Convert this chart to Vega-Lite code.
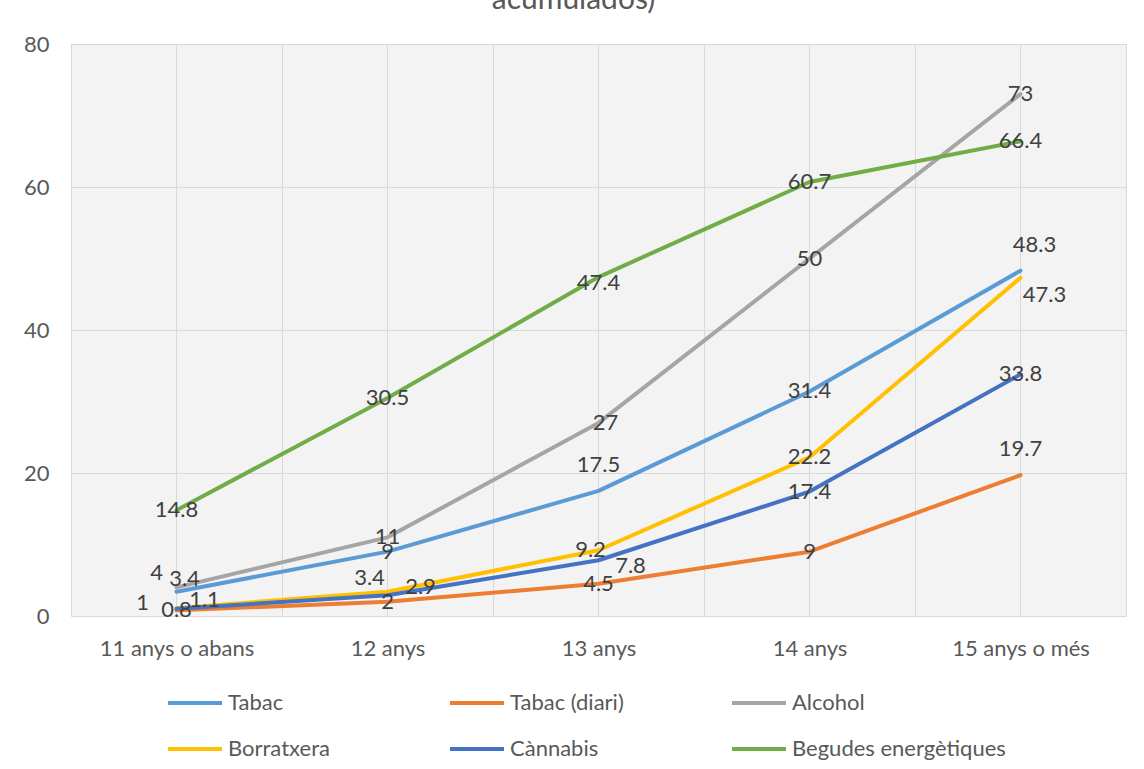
{
  "$schema": "https://vega.github.io/schema/vega-lite/v6.json",
  "width": 1055,
  "height": 572,
  "autosize": {"type": "none"},
  "padding": {"left": 71, "top": 44, "right": 18, "bottom": 153},
  "background": "#ffffff",
  "title": {
    "text": "acumulados)",
    "font": "Lato",
    "fontSize": 30,
    "fontWeight": "normal",
    "color": "#595959",
    "anchor": "middle",
    "dx": -25,
    "offset": 18
  },
  "config": {
    "font": "Lato",
    "view": {"fill": "#f3f3f3", "stroke": null},
    "axis": {
      "gridColor": "#d9d9d9",
      "gridWidth": 1,
      "domain": false,
      "ticks": false,
      "labelFont": "Lato",
      "labelFontSize": 22,
      "labelColor": "#595959",
      "title": null
    },
    "text": {"font": "Lato", "fontSize": 22, "color": "#404040", "baseline": "middle", "align": "center"}
  },
  "data": {
    "values": [
      {"serie": "Tabac", "edat": "11 anys o abans", "valor": 3.4},
      {"serie": "Tabac", "edat": "12 anys", "valor": 9},
      {"serie": "Tabac", "edat": "13 anys", "valor": 17.5},
      {"serie": "Tabac", "edat": "14 anys", "valor": 31.4},
      {"serie": "Tabac", "edat": "15 anys o més", "valor": 48.3},
      {"serie": "Tabac (diari)", "edat": "11 anys o abans", "valor": 0.8},
      {"serie": "Tabac (diari)", "edat": "12 anys", "valor": 2},
      {"serie": "Tabac (diari)", "edat": "13 anys", "valor": 4.5},
      {"serie": "Tabac (diari)", "edat": "14 anys", "valor": 9},
      {"serie": "Tabac (diari)", "edat": "15 anys o més", "valor": 19.7},
      {"serie": "Alcohol", "edat": "11 anys o abans", "valor": 4},
      {"serie": "Alcohol", "edat": "12 anys", "valor": 11},
      {"serie": "Alcohol", "edat": "13 anys", "valor": 27},
      {"serie": "Alcohol", "edat": "14 anys", "valor": 50},
      {"serie": "Alcohol", "edat": "15 anys o més", "valor": 73},
      {"serie": "Borratxera", "edat": "11 anys o abans", "valor": 1.1},
      {"serie": "Borratxera", "edat": "12 anys", "valor": 3.4},
      {"serie": "Borratxera", "edat": "13 anys", "valor": 9.2},
      {"serie": "Borratxera", "edat": "14 anys", "valor": 22.2},
      {"serie": "Borratxera", "edat": "15 anys o més", "valor": 47.3},
      {"serie": "Cànnabis", "edat": "11 anys o abans", "valor": 1},
      {"serie": "Cànnabis", "edat": "12 anys", "valor": 2.9},
      {"serie": "Cànnabis", "edat": "13 anys", "valor": 7.8},
      {"serie": "Cànnabis", "edat": "14 anys", "valor": 17.4},
      {"serie": "Cànnabis", "edat": "15 anys o més", "valor": 33.8},
      {"serie": "Begudes energètiques", "edat": "11 anys o abans", "valor": 14.8},
      {"serie": "Begudes energètiques", "edat": "12 anys", "valor": 30.5},
      {"serie": "Begudes energètiques", "edat": "13 anys", "valor": 47.4},
      {"serie": "Begudes energètiques", "edat": "14 anys", "valor": 60.7},
      {"serie": "Begudes energètiques", "edat": "15 anys o més", "valor": 66.4}
    ]
  },
  "resolve": {"axis": {"x": "independent"}},
  "layer": [
    {
      "mark": {"type": "line", "strokeWidth": 4, "strokeCap": "round", "strokeJoin": "round"},
      "encoding": {
        "x": {
          "field": "edat", "type": "ordinal",
          "sort": ["11 anys o abans", "12 anys", "13 anys", "14 anys", "15 anys o més"],
          "scale": {"type": "band", "paddingInner": 0, "paddingOuter": 0},
          "axis": {"labelAngle": 0, "labelPadding": 22, "grid": true, "tickBand": "extent"}
        },
        "y": {
          "field": "valor", "type": "quantitative",
          "scale": {"domain": [0, 80], "nice": false},
          "axis": {"values": [0, 20, 40, 60, 80], "grid": true, "labelPadding": 22}
        },
        "color": {
          "field": "serie", "type": "nominal",
          "scale": {
            "domain": ["Tabac", "Tabac (diari)", "Alcohol", "Borratxera", "Cànnabis", "Begudes energètiques"],
            "range": ["#5b9bd5", "#ed7d31", "#a5a5a5", "#ffc000", "#4472c4", "#70ad47"]
          },
          "legend": {
            "orient": "none",
            "legendX": 95,
            "legendY": 630,
            "direction": "horizontal",
            "columns": 3,
            "title": null,
            "symbolType": "stroke",
            "symbolSize": 2916,
            "symbolStrokeWidth": 4,
            "labelFont": "Lato",
            "labelFontSize": 22,
            "labelColor": "#595959",
            "labelOffset": 4,
            "labelLimit": 400,
            "columnPadding": 0,
            "rowPadding": 6,
            "gridAlign": "all",
            "padding": 0
          }
        }
      }
    },
    {
      "transform": [{"filter": "indexof(['Tabac|11 anys o abans','Alcohol|11 anys o abans','Borratxera|11 anys o abans','Cànnabis|11 anys o abans','Borratxera|12 anys','Cànnabis|12 anys','Tabac|13 anys','Alcohol|13 anys','Borratxera|13 anys','Cànnabis|13 anys','Begudes energètiques|13 anys','Tabac|15 anys o més','Borratxera|15 anys o més','Tabac (diari)|15 anys o més'], datum.serie + '|' + datum.edat) < 0"}],
      "mark": {"type": "text"},
      "encoding": {
        "x": {
          "field": "edat", "type": "ordinal",
          "sort": ["11 anys o abans", "12 anys", "13 anys", "14 anys", "15 anys o més"],
          "axis": {"labels": false, "grid": true}
        },
        "y": {"field": "valor", "type": "quantitative"},
        "text": {"field": "valor", "type": "quantitative"}
      }
    },
    {
      "transform": [{"filter": "datum.serie === 'Tabac' && datum.edat === '11 anys o abans'"}],
      "mark": {"type": "text", "dx": 8, "dy": -13},
      "encoding": {
        "x": {"field": "edat", "type": "ordinal", "sort": ["11 anys o abans", "12 anys", "13 anys", "14 anys", "15 anys o més"], "axis": null},
        "y": {"field": "valor", "type": "quantitative"},
        "text": {"field": "valor", "type": "quantitative"}
      }
    },
    {
      "transform": [{"filter": "datum.serie === 'Alcohol' && datum.edat === '11 anys o abans'"}],
      "mark": {"type": "text", "dx": -20, "dy": -14},
      "encoding": {
        "x": {"field": "edat", "type": "ordinal", "sort": ["11 anys o abans", "12 anys", "13 anys", "14 anys", "15 anys o més"], "axis": null},
        "y": {"field": "valor", "type": "quantitative"},
        "text": {"field": "valor", "type": "quantitative"}
      }
    },
    {
      "transform": [{"filter": "datum.serie === 'Borratxera' && datum.edat === '11 anys o abans'"}],
      "mark": {"type": "text", "dx": 28, "dy": -8},
      "encoding": {
        "x": {"field": "edat", "type": "ordinal", "sort": ["11 anys o abans", "12 anys", "13 anys", "14 anys", "15 anys o més"], "axis": null},
        "y": {"field": "valor", "type": "quantitative"},
        "text": {"field": "valor", "type": "quantitative"}
      }
    },
    {
      "transform": [{"filter": "datum.serie === 'Cànnabis' && datum.edat === '11 anys o abans'"}],
      "mark": {"type": "text", "dx": -34, "dy": -6},
      "encoding": {
        "x": {"field": "edat", "type": "ordinal", "sort": ["11 anys o abans", "12 anys", "13 anys", "14 anys", "15 anys o més"], "axis": null},
        "y": {"field": "valor", "type": "quantitative"},
        "text": {"field": "valor", "type": "quantitative"}
      }
    },
    {
      "transform": [{"filter": "datum.serie === 'Borratxera' && datum.edat === '12 anys'"}],
      "mark": {"type": "text", "dx": -18, "dy": -14},
      "encoding": {
        "x": {"field": "edat", "type": "ordinal", "sort": ["11 anys o abans", "12 anys", "13 anys", "14 anys", "15 anys o més"], "axis": null},
        "y": {"field": "valor", "type": "quantitative"},
        "text": {"field": "valor", "type": "quantitative"}
      }
    },
    {
      "transform": [{"filter": "datum.serie === 'Cànnabis' && datum.edat === '12 anys'"}],
      "mark": {"type": "text", "dx": 33, "dy": -8},
      "encoding": {
        "x": {"field": "edat", "type": "ordinal", "sort": ["11 anys o abans", "12 anys", "13 anys", "14 anys", "15 anys o més"], "axis": null},
        "y": {"field": "valor", "type": "quantitative"},
        "text": {"field": "valor", "type": "quantitative"}
      }
    },
    {
      "transform": [{"filter": "(datum.serie === 'Tabac' && datum.edat === '13 anys') || (datum.serie === 'Tabac (diari)' && datum.edat === '15 anys o més')"}],
      "mark": {"type": "text", "dy": -26},
      "encoding": {
        "x": {"field": "edat", "type": "ordinal", "sort": ["11 anys o abans", "12 anys", "13 anys", "14 anys", "15 anys o més"], "axis": null},
        "y": {"field": "valor", "type": "quantitative"},
        "text": {"field": "valor", "type": "quantitative"}
      }
    },
    {
      "transform": [{"filter": "datum.serie === 'Alcohol' && datum.edat === '13 anys'"}],
      "mark": {"type": "text", "dx": 7},
      "encoding": {
        "x": {"field": "edat", "type": "ordinal", "sort": ["11 anys o abans", "12 anys", "13 anys", "14 anys", "15 anys o més"], "axis": null},
        "y": {"field": "valor", "type": "quantitative"},
        "text": {"field": "valor", "type": "quantitative"}
      }
    },
    {
      "transform": [{"filter": "datum.serie === 'Borratxera' && datum.edat === '13 anys'"}],
      "mark": {"type": "text", "dx": -8},
      "encoding": {
        "x": {"field": "edat", "type": "ordinal", "sort": ["11 anys o abans", "12 anys", "13 anys", "14 anys", "15 anys o més"], "axis": null},
        "y": {"field": "valor", "type": "quantitative"},
        "text": {"field": "valor", "type": "quantitative"}
      }
    },
    {
      "transform": [{"filter": "datum.serie === 'Cànnabis' && datum.edat === '13 anys'"}],
      "mark": {"type": "text", "dx": 32, "dy": 6},
      "encoding": {
        "x": {"field": "edat", "type": "ordinal", "sort": ["11 anys o abans", "12 anys", "13 anys", "14 anys", "15 anys o més"], "axis": null},
        "y": {"field": "valor", "type": "quantitative"},
        "text": {"field": "valor", "type": "quantitative"}
      }
    },
    {
      "transform": [{"filter": "datum.serie === 'Begudes energètiques' && datum.edat === '13 anys'"}],
      "mark": {"type": "text", "dy": 6},
      "encoding": {
        "x": {"field": "edat", "type": "ordinal", "sort": ["11 anys o abans", "12 anys", "13 anys", "14 anys", "15 anys o més"], "axis": null},
        "y": {"field": "valor", "type": "quantitative"},
        "text": {"field": "valor", "type": "quantitative"}
      }
    },
    {
      "transform": [{"filter": "datum.serie === 'Tabac' && datum.edat === '15 anys o més'"}],
      "mark": {"type": "text", "dx": 14, "dy": -26},
      "encoding": {
        "x": {"field": "edat", "type": "ordinal", "sort": ["11 anys o abans", "12 anys", "13 anys", "14 anys", "15 anys o més"], "axis": null},
        "y": {"field": "valor", "type": "quantitative"},
        "text": {"field": "valor", "type": "quantitative"}
      }
    },
    {
      "transform": [{"filter": "datum.serie === 'Borratxera' && datum.edat === '15 anys o més'"}],
      "mark": {"type": "text", "dx": 24, "dy": 17},
      "encoding": {
        "x": {"field": "edat", "type": "ordinal", "sort": ["11 anys o abans", "12 anys", "13 anys", "14 anys", "15 anys o més"], "axis": null},
        "y": {"field": "valor", "type": "quantitative"},
        "text": {"field": "valor", "type": "quantitative"}
      }
    }
  ]
}
